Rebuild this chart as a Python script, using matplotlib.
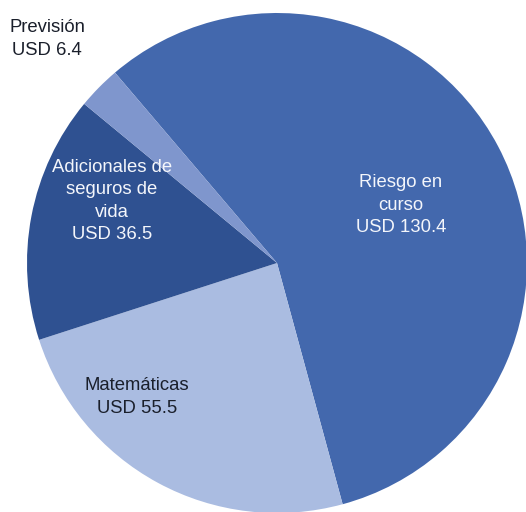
import matplotlib.pyplot as plt

# reservas técnicas, millones de USD
categories = ["Riesgo en\ncurso", "Matemáticas", "Adicionales de\nseguros de\nvida", "Previsión"]
values = [130.4, 55.5, 36.5, 6.4]
colors = ["#4368ad", "#aabce1", "#2f5191", "#7f96cd"]
text_colors = ["#f4f6fb", "#1a1f2b", "#f4f6fb", "#1a1f2b"]

# label centres in pixel coords (y up)
label_xy = [(401, 307), (137, 115), (112, 311), (47, 473)]

plt.rcParams["font.family"] = ["Liberation Sans", "DejaVu Sans"]

fig = plt.figure(figsize=(5.26, 5.12), dpi=100)
ax = fig.add_axes([0, 0, 1, 1])

ax.pie(values, colors=colors, startangle=130.4, counterclock=False,
       center=(277, 249), radius=250,
       wedgeprops=dict(linewidth=0))

for name, val, (x, y), tc in zip(categories, values, label_xy, text_colors):
    ax.text(x, y, f"{name}\nUSD {val}", ha="center", va="center",
            fontsize=13.3, color=tc, linespacing=1.4)

ax.set_xlim(0, 526)
ax.set_ylim(0, 512)
ax.set_aspect("equal")
ax.axis("off")

fig.savefig("out.png", dpi=100)
